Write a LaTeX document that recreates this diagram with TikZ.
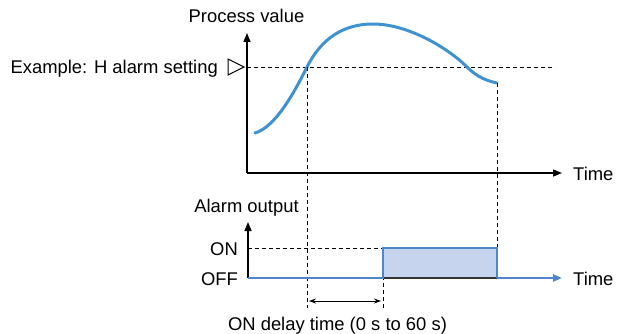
\documentclass[tikz,border=0pt]{standalone}
\usepackage{fontspec}
\setmainfont{Liberation Sans}
\usetikzlibrary{arrows.meta}
\definecolor{pvblue}{HTML}{3F92D2}
\definecolor{sigblue}{HTML}{4E85CB}
\definecolor{onfill}{HTML}{C6D4EE}
\tikzset{
  axis/.style={line width=1.5pt, -{Triangle[length=9pt,width=7pt]}},
  guide/.style={line width=0.9pt, dash pattern=on 4pt off 3pt},
  lbl/.style={inner sep=0pt, font=\fontsize{18.4}{22}\selectfont}
}
\begin{document}
\begin{tikzpicture}[x=1pt, y=-1pt]
  \useasboundingbox (0,0) rectangle (623,334);

  % process value graph
  \coordinate (o1) at (247,173);
  \coordinate (h1) at (555,67);
  \draw[axis] (o1) -- (247,33) coordinate (ytop1);
  \draw[axis] (o1) -- (562,173) coordinate (xend1);
  \node[lbl, anchor=base] (pv) at (246.5,23) {Process value};
  \node[lbl, anchor=base west] (time1) at (573,180) {Time};

  \draw[guide] (247,67) -- (h1);
  \node[lbl, anchor=base east] (halarm) at (218,74) {Example: H alarm setting};
  \draw[line width=1pt] (228,59) -- (244,67) -- (228,75) -- cycle;

  \draw[pvblue, line width=3pt, line cap=round]
    (255,133) .. controls (275,127) and (293,95) .. (307,67)
    .. controls (321,39) and (343,24) .. (373,24)
    .. controls (408,24) and (448,48) .. (467,67)
    .. controls (478,78) and (488,81) .. (497,83);

  % alarm output graph
  \coordinate (o2) at (248,278);
  \node[lbl, anchor=base] (aout) at (246.5,212) {Alarm output};
  \node[lbl, anchor=base east] (on) at (238,255) {ON};
  \node[lbl, anchor=base east] (off) at (238,285) {OFF};
  \node[lbl, anchor=base west] (time2) at (573,285) {Time};

  \fill[onfill] (383,248) rectangle (497,278);
  \draw[guide] (248,248) -- (383,248);
  \draw[guide] (307,67) -- (307,308);
  \draw[guide] (383,248) -- (383,308);
  \draw[guide] (497,83) -- (497,248);
  \draw[line width=1.5pt, -{Triangle[length=9pt,width=7pt]}] (o2) -- (248,222);
  \draw[line width=2pt, black!80] (383,278) -- (497,278);
  \draw[sigblue, line width=2.5pt] (o2) -- (383,278) -- (383,248) -- (497,248) -- (497,278);
  \draw[sigblue, line width=2.5pt, -{Triangle[length=9pt,width=7pt]}] (497,278) -- (562,278);

  \draw[line width=1pt, {Stealth[length=7pt,width=5pt]}-{Stealth[length=7pt,width=5pt]}] (309,301) -- (381,301);
  \node[lbl, anchor=base] (delay) at (337.5,330) {ON delay time (0 s to 60 s)};
\end{tikzpicture}
\end{document}
